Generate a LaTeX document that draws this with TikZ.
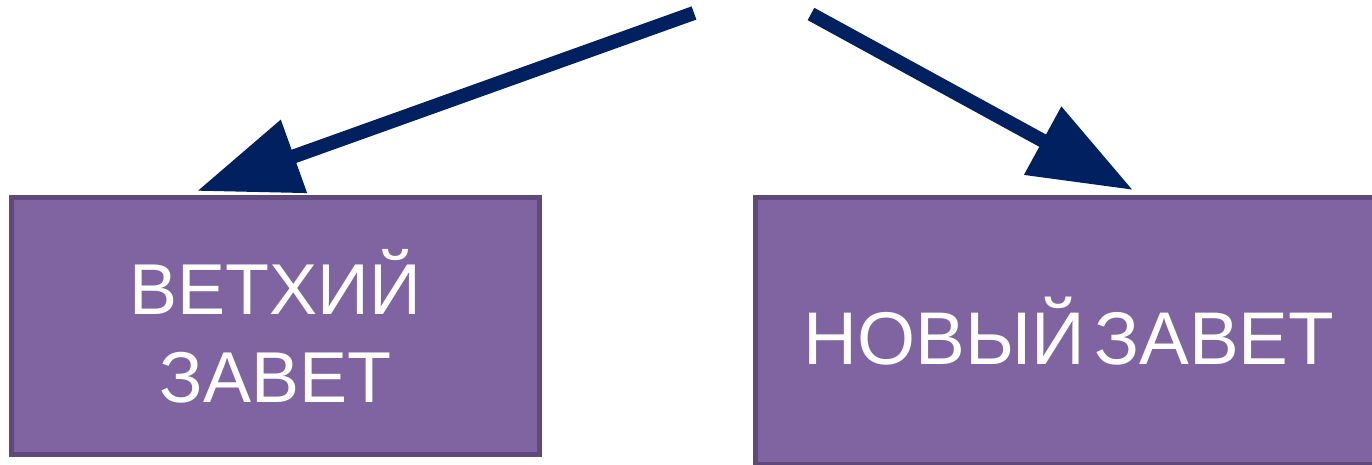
\documentclass[tikz,border=0pt]{standalone}
\usepackage{fontspec}
\setmainfont{Liberation Sans}
\usetikzlibrary{arrows.meta}
\definecolor{navy}{HTML}{002060}
\definecolor{boxfill}{HTML}{8064A2}
\definecolor{boxline}{HTML}{5F497A}
\newcommand{\tightspace}{\spaceskip=0.12em\relax}

\begin{document}
\begin{tikzpicture}[x=0.02cm,y=-0.02cm]
	\tikzset{>={Triangle[length=2.06cm,width=1.48cm]}}
	\tikzset{testament/.style={draw=boxline,line width=2.8pt,fill=boxfill,text=white,align=center,inner sep=0pt}}
	\useasboundingbox (0,0) rectangle (1372,465);
	\coordinate (L) at (694,13);
	\coordinate (R) at (811,14);
	
	\node[testament,minimum width=10.56cm,minimum height=5.14cm,font=\fontsize{41}{50}\selectfont] (old) at (275.5,326) {ВЕТХИЙ\\ЗАВЕТ};
	\node[testament,minimum width=12.56cm,minimum height=5.34cm,font=\fontsize{42.5}{50}\selectfont] (new) at (1069,331) {\tightspace НОВЫЙ ЗАВЕТ};
	
	\draw[->,navy,line width=0.28cm] (L) -- ([xshift=-1.57cm,yshift=0.08cm]old.north);
	\draw[->,navy,line width=0.28cm] (R) -- ([xshift=1.28cm,yshift=0.10cm]new.north);
\end{tikzpicture}
\end{document}
